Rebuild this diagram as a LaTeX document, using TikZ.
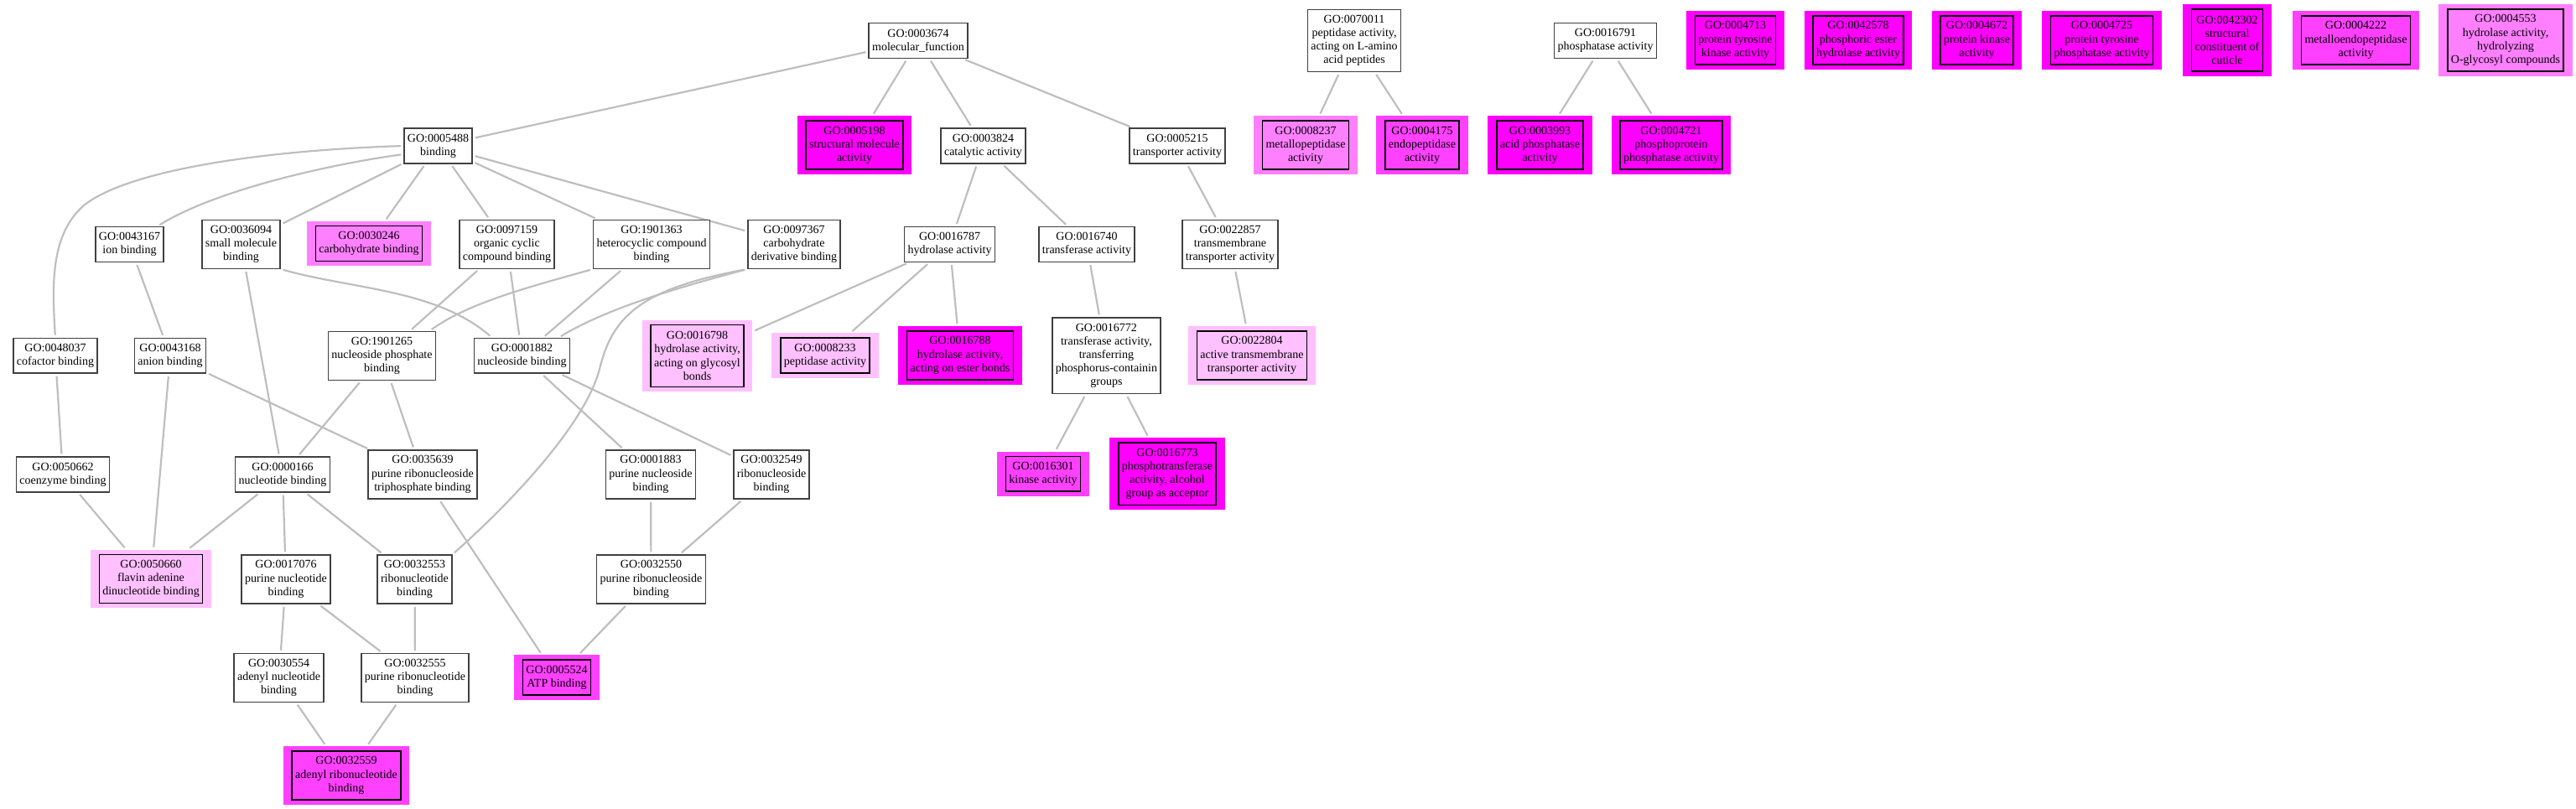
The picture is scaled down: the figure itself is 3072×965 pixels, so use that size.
\documentclass[tikz,border=0pt]{standalone}
\usepackage{fontspec}
\setmainfont{Liberation Serif}
\usetikzlibrary{backgrounds}
\definecolor{hitfull}{RGB}{255,0,255}
\definecolor{hithigh}{RGB}{255,64,255}
\definecolor{hitmid}{RGB}{255,128,255}
\definecolor{hitlow}{RGB}{255,192,255}
\definecolor{edgegray}{RGB}{190,190,190}
\definecolor{boxline}{RGB}{64,64,64}
\tikzset{
  term/.style={draw=boxline,line width=1.5pt,fill=white,align=center,
    inner xsep=4pt,inner ysep=0pt},
  hit/.style={fill=#1,align=center,inner xsep=14.5pt,inner ysep=0pt,
    path picture={\draw[line width=1.5pt,black]
      ([xshift=10.5pt,yshift=5.7pt]path picture bounding box.south west) rectangle
      ([xshift=-10.5pt,yshift=-5.7pt]path picture bounding box.north east);}},
  nlines/.style={minimum height={16.2pt*#1+9.4pt}},
  hlines/.style={minimum height={16.2pt*#1+20.8pt}},
  link/.style={draw=edgegray,line width=2.2pt,shorten <=3pt,shorten >=3pt}
}

\begin{document}
\begin{tikzpicture}[x=1pt,y=-1pt,font=\fontsize{14}{16.2}\selectfont]
  \useasboundingbox (0,0) rectangle (3072,965);

  % top rows
  \node[term,nlines=2] (n3674) at (1095,48.5) {GO:0003674\\molecular\_function};
  \node[term,nlines=4] (n70011) at (1615,48.5) {GO:0070011\\peptidase activity,\\acting on L-amino\\acid peptides};
  \node[term,nlines=2] (n16791) at (1914.5,48.5) {GO:0016791\\phosphatase activity};
  \node[hit=hitfull,hlines=3] (n4713) at (2069.5,48) {GO:0004713\\protein tyrosine\\kinase activity};
  \node[hit=hitfull,hlines=3] (n42578) at (2216,48) {GO:0042578\\phosphoric ester\\hydrolase activity};
  \node[hit=hitfull,hlines=3] (n4672) at (2357.5,48) {GO:0004672\\protein kinase\\activity};
  \node[hit=hitfull,hlines=3] (n4725) at (2506.5,48) {GO:0004725\\protein tyrosine\\phosphatase activity};
  \node[hit=hitfull,hlines=4] (n42302) at (2656,48) {GO:0042302\\structural\\constituent of\\cuticle};
  \node[hit=hithigh,hlines=3] (n4222) at (2809.5,48) {GO:0004222\\metalloendopeptidase\\activity};
  \node[hit=hitmid,hlines=4] (n4553) at (2988,48) {GO:0004553\\hydrolase activity,\\hydrolyzing\\O-glycosyl compounds};

  \node[term,nlines=2] (n5488) at (522.5,174) {GO:0005488\\binding};
  \node[hit=hitfull,hlines=3] (n5198) at (1019,173.2) {GO:0005198\\structural molecule\\activity};
  \node[term,nlines=2] (n3824) at (1172.5,174) {GO:0003824\\catalytic activity};
  \node[term,nlines=2] (n5215) at (1404,174) {GO:0005215\\transporter activity};
  \node[hit=hitmid,hlines=3] (n8237) at (1557,173.2) {GO:0008237\\metallopeptidase\\activity};
  \node[hit=hithigh,hlines=3] (n4175) at (1696,173.2) {GO:0004175\\endopeptidase\\activity};
  \node[hit=hitfull,hlines=3] (n3993) at (1836.5,173.2) {GO:0003993\\acid phosphatase\\activity};
  \node[hit=hitfull,hlines=3] (n4721) at (1993,173.2) {GO:0004721\\phosphoprotein\\phosphatase activity};

  % middle rows
  \node[term,nlines=2] (n43167) at (154.5,291.5) {GO:0043167\\ion binding};
  \node[term,nlines=3] (n36094) at (287.5,291.3) {GO:0036094\\small molecule\\binding};
  \node[hit=hitmid,hlines=2] (n30246) at (440,290.5) {GO:0030246\\carbohydrate binding};
  \node[term,nlines=3] (n97159) at (604.5,291.3) {GO:0097159\\organic cyclic\\compound binding};
  \node[term,nlines=3] (n1901363) at (777,291.3) {GO:1901363\\heterocyclic compound\\binding};
  \node[term,nlines=3] (n97367) at (947,291.3) {GO:0097367\\carbohydrate\\derivative binding};
  \node[term,nlines=2] (n16787) at (1132.6,291.5) {GO:0016787\\hydrolase activity};
  \node[term,nlines=2] (n16740) at (1296,291.5) {GO:0016740\\transferase activity};
  \node[term,nlines=3] (n22857) at (1467,291.3) {GO:0022857\\transmembrane\\transporter activity};

  \node[term,nlines=2] (n48037) at (66,424.3) {GO:0048037\\cofactor binding};
  \node[term,nlines=2] (n43168) at (203,424.3) {GO:0043168\\anion binding};
  \node[term,nlines=3] (n1901265) at (455.5,424.5) {GO:1901265\\nucleoside phosphate\\binding};
  \node[term,nlines=2] (n1882) at (622.5,424.3) {GO:0001882\\nucleoside binding};
  \node[hit=hitlow,hlines=4] (n16798) at (831.5,424.5) {GO:0016798\\hydrolase activity,\\acting on glycosyl\\bonds};
  \node[hit=hitlow,hlines=2] (n8233) at (984,424) {GO:0008233\\peptidase activity};
  \node[hit=hitfull,hlines=3] (n16788) at (1145,424) {GO:0016788\\hydrolase activity,\\acting on ester bonds};
  \node[term,nlines=5] (n16772) at (1319.4,424.3) {GO:0016772\\transferase activity,\\transferring\\phosphorus-containin\\groups};
  \node[hit=hitlow,hlines=3] (n22804) at (1493,424) {GO:0022804\\active transmembrane\\transporter activity};

  % lower rows
  \node[term,nlines=2] (n50662) at (75,566) {GO:0050662\\coenzyme binding};
  \node[term,nlines=2] (n166) at (337,566) {GO:0000166\\nucleotide binding};
  \node[term,nlines=3] (n35639) at (504,566) {GO:0035639\\purine ribonucleoside\\triphosphate binding};
  \node[term,nlines=3] (n1883) at (776,566) {GO:0001883\\purine nucleoside\\binding};
  \node[term,nlines=3] (n32549) at (920,566) {GO:0032549\\ribonucleoside\\binding};
  \node[hit=hithigh,hlines=2] (n16301) at (1244,565.2) {GO:0016301\\kinase activity};
  \node[hit=hitfull,hlines=4] (n16773) at (1392,565.2) {GO:0016773\\phosphotransferase\\activity, alcohol\\group as acceptor};

  \node[hit=hitlow,hlines=3] (n50660) at (180,690.5) {GO:0050660\\flavin adenine\\dinucleotide binding};
  \node[term,nlines=3] (n17076) at (341,691) {GO:0017076\\purine nucleotide\\binding};
  \node[term,nlines=3] (n32553) at (494.5,691) {GO:0032553\\ribonucleotide\\binding};
  \node[term,nlines=3] (n32550) at (776.5,691) {GO:0032550\\purine ribonucleoside\\binding};

  \node[term,nlines=3] (n30554) at (332.6,808.5) {GO:0030554\\adenyl nucleotide\\binding};
  \node[term,nlines=3] (n32555) at (495,808.5) {GO:0032555\\purine ribonucleotide\\binding};
  \node[hit=hithigh,hlines=2] (n5524) at (664,808) {GO:0005524\\ATP binding};
  \node[hit=hithigh,hlines=3] (n32559) at (413,925) {GO:0032559\\adenyl ribonucleotide\\binding};

  % edges
  \begin{scope}[on background layer]
    \foreach \a/\b in {n3674/n5488,n3674/n5198,n3674/n3824,n3674/n5215,
        n5488/n36094,n5488/n30246,n5488/n97159,n5488/n1901363,n5488/n97367,
        n43167/n43168,n36094/n166,n97159/n1901265,n97159/n1882,n1901363/n1882,
        n48037/n50662,n43168/n50660,n43168/n35639,n1901265/n166,n1901265/n35639,
        n1882/n1883,n1882/n32549,n50662/n50660,n166/n50660,n166/n17076,n166/n32553,
        n35639/n5524,n1883/n32550,n32549/n32550,n17076/n30554,n17076/n32555,
        n32553/n32555,n32550/n5524,n30554/n32559,n32555/n32559,
        n3824/n16787,n3824/n16740,n16787/n16798,n16787/n8233,n16787/n16788,
        n16740/n16772,n16772/n16301,n16772/n16773,n5215/n22857,n22857/n22804,
        n70011/n8237,n70011/n4175,n16791/n3993,n16791/n4721}
      \draw[link] (\a) -- (\b);
    \draw[link] (n5488.west) .. controls (300,180) and (150,205) .. (100,245)
      .. controls (60,280) and (62,340) .. (n48037.north);
    \draw[link] ([yshift=-10pt]n5488.west) .. controls (400,195) and (260,225)
      .. ([xshift=-8pt]n43167.north east);
    \draw[link] (n36094.south east) .. controls (420,345) and (520,345)
      .. ([xshift=22pt]n1882.north west);
    \draw[link] (n97367.south west) .. controls (800,345) and (720,370)
      .. ([xshift=-14pt]n1882.north east);
    \draw[link] (n97367.south west) .. controls (760,345) and (730,380) .. (715,440)
      .. controls (700,500) and (620,590) .. (n32553.north east);
    \draw[link] (n1901363.south west) .. controls (640,340) and (560,360)
      .. ([xshift=-8pt]n1901265.north east);
  \end{scope}
\end{tikzpicture}
\end{document}
